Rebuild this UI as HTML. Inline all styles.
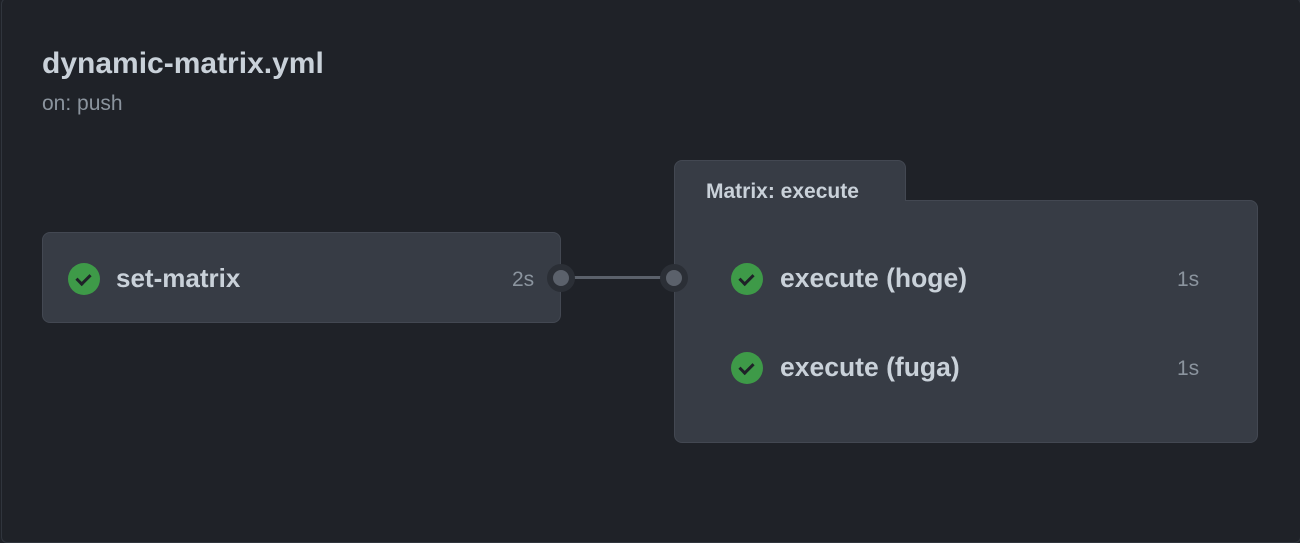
<!DOCTYPE html>
<html><head><style>
html,body{margin:0;padding:0;}
body{width:1300px;height:537px;background:#1f2228;position:relative;overflow:hidden;font-family:"Liberation Sans","DejaVu Sans",sans-serif;}
.frame{position:absolute;left:1px;top:-2px;width:1300px;height:545px;border:1px solid #30353d;border-radius:6px;box-sizing:border-box;}
.t{position:absolute;white-space:nowrap;}
.box{position:absolute;background:#373c45;border:1px solid #434852;box-sizing:border-box;}
.chk{position:absolute;width:32px;height:32px;border-radius:50%;background:#3e9a48;}
.chk:after{content:"";position:absolute;left:11px;top:8px;width:6px;height:11px;border-right:3px solid #1f2228;border-bottom:3px solid #1f2228;transform:rotate(45deg);}
.dot{position:absolute;width:16px;height:16px;border-radius:50%;background:#5b616b;border:6px solid #2b2f36;}
</style></head><body>
<div class="frame"></div>
<div class="t" style="left:42px;top:47px;font-size:30px;font-weight:bold;color:#c9d1d9;">dynamic-matrix.yml</div>
<div class="t" style="left:42px;top:92px;font-size:21px;color:#8b949e;">on: push</div>

<div class="box" style="left:42px;top:232px;width:519px;height:91px;border-radius:8px;"></div>
<div class="chk" style="left:68px;top:263px;"></div>
<div class="t" style="left:116px;top:263px;font-size:26px;font-weight:bold;color:#c9d1d9;">set-matrix</div>
<div class="t" style="left:512px;top:268px;font-size:21px;color:#8b949e;">2s</div>

<div style="position:absolute;left:566px;top:276px;width:104px;height:3px;background:#5b616b;"></div>

<div class="box" style="left:674px;top:160px;width:232px;height:60px;border-radius:8px 8px 0 0;border-bottom:none;"></div>
<div class="box" style="left:674px;top:200px;width:584px;height:243px;border-radius:0 8px 8px 8px;"></div>
<div style="position:absolute;left:675px;top:195px;width:230px;height:10px;background:#373c45;"></div>
<div class="t" style="left:706px;top:180px;font-size:21px;font-weight:bold;color:#c9d1d9;">Matrix: execute</div>

<div class="dot" style="left:547px;top:264px;"></div>
<div class="dot" style="left:660px;top:264px;"></div>

<div class="chk" style="left:731px;top:263px;"></div>
<div class="t" style="left:780px;top:263px;font-size:26.5px;font-weight:bold;color:#c9d1d9;">execute (hoge)</div>
<div class="t" style="left:1177px;top:268px;font-size:21px;color:#8b949e;">1s</div>

<div class="chk" style="left:731px;top:352px;"></div>
<div class="t" style="left:780px;top:352px;font-size:26.5px;font-weight:bold;color:#c9d1d9;">execute (fuga)</div>
<div class="t" style="left:1177px;top:357px;font-size:21px;color:#8b949e;">1s</div>
</body></html>
